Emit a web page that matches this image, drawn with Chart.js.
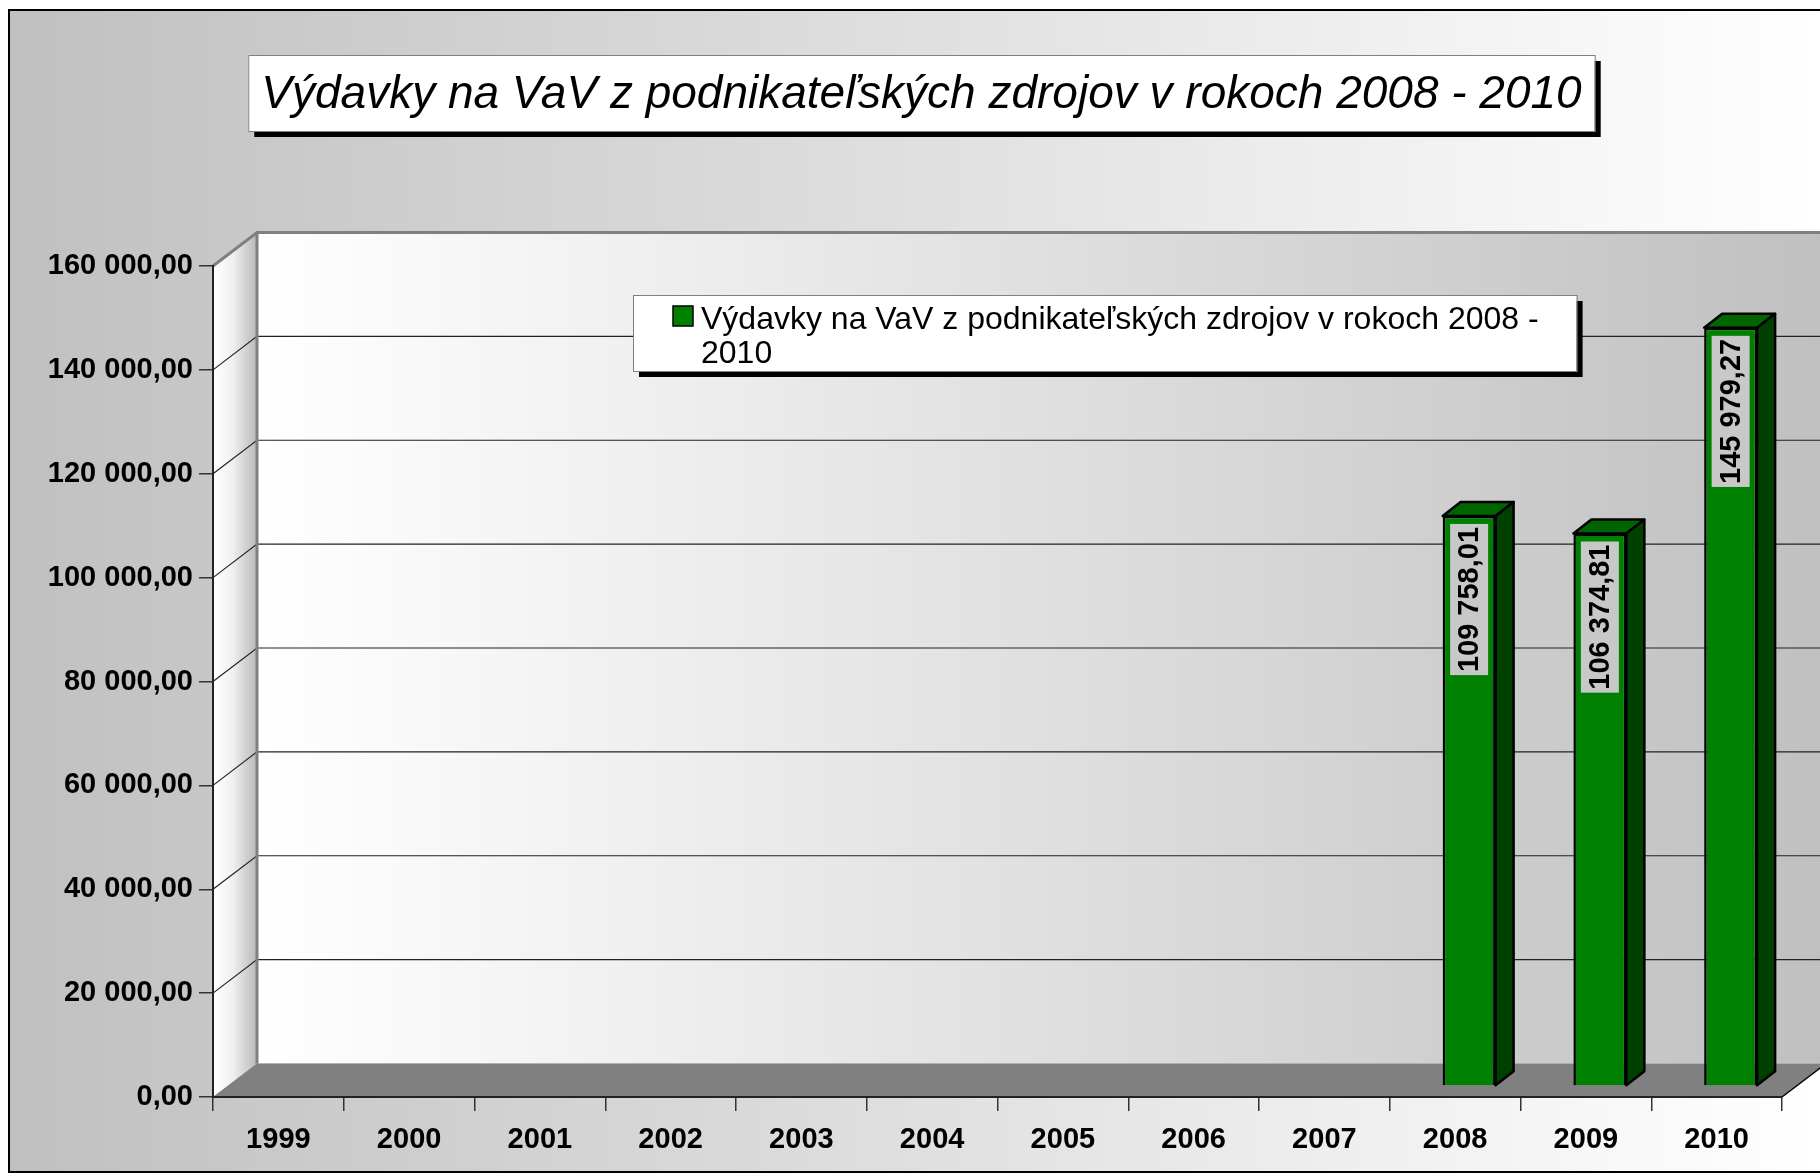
<!DOCTYPE html>
<html>
<head>
<meta charset="utf-8">
<script src="https://cdn.jsdelivr.net/npm/chart.js@4.4.0/dist/chart.umd.min.js"></script>
<style>
  html, body { margin: 0; padding: 0; background: #fff; }
  canvas { display: block; }
</style>
</head>
<body>
<canvas id="chart" width="1820" height="1173"></canvas>
<script>
// data
const years = ['1999', '2000', '2001', '2002', '2003', '2004', '2005', '2006', '2007', '2008', '2009', '2010'];
const spending = [null, null, null, null, null, null, null, null, null, 109758.01, 106374.81, 145979.27];
const yTicks = [0, 20000, 40000, 60000, 80000, 100000, 120000, 140000, 160000];
const titleText = 'Výdavky na VaV z podnikateľských zdrojov v rokoch 2008 - 2010';
const legendLines = ['Výdavky na VaV z podnikateľských zdrojov v rokoch 2008 -', '2010'];

const FONT = '"Liberation Sans", Arial, sans-serif';
const WALL_DX = 44, WALL_DY = 33.5;   // depth of the 3d box
const BAR_DX = 14, BAR_DY = 11;       // bars sit a bit behind the front edge
const SIDE_DX = 18, SIDE_DY = 14;     // depth of each bar

function fmt(v) {
    const parts = Number(v).toFixed(2).split('.');
    return parts[0].replace(/\B(?=(\d{3})+(?!\d))/g, ' ') + ',' + parts[1];
}

function shadowBox(ctx, x, y, w, h) {
    ctx.fillStyle = '#000';
    ctx.fillRect(x + 6, y + 6, w, h);
    ctx.fillStyle = '#fff';
    ctx.fillRect(x, y, w, h);
    ctx.strokeStyle = '#808080';
    ctx.lineWidth = 1;
    ctx.strokeRect(x + 0.5, y + 0.5, w, h);
}

const scenery = {
    id: 'scenery',
    beforeDraw(chart) {
        const ctx = chart.ctx;
        const area = chart.chartArea;
        const yScale = chart.scales.y;
        const W = chart.width, H = chart.height;

        ctx.save();
        ctx.fillStyle = '#fff';
        ctx.fillRect(0, 0, W, H);

        // outer frame
        let g = ctx.createLinearGradient(9, 0, W, 0);
        g.addColorStop(0, '#c0c0c0');
        g.addColorStop(1, '#ffffff');
        ctx.fillStyle = g;
        ctx.fillRect(9, 10, W + 20, H - 11);
        ctx.strokeStyle = '#000';
        ctx.lineWidth = 2;
        ctx.strokeRect(9, 10, W + 20, H - 11);

        // title box
        ctx.font = 'italic 46px ' + FONT;
        const tw = ctx.measureText(titleText).width;
        const bw = tw + 26, bx = 921.5 - bw / 2;
        shadowBox(ctx, bx, 55, bw, 76);
        ctx.fillStyle = '#000';
        ctx.textAlign = 'center';
        ctx.textBaseline = 'alphabetic';
        ctx.fillText(titleText, 921.5, 108);

        const left = area.left, right = area.right, top = area.top, bottom = area.bottom;
        const bl = left + WALL_DX, bt = top - WALL_DY, bb = bottom - WALL_DY;

        // back wall
        g = ctx.createLinearGradient(bl, 0, W, 0);
        g.addColorStop(0, '#ffffff');
        g.addColorStop(1, '#c0c0c0');
        ctx.fillStyle = g;
        ctx.fillRect(bl, bt, W - bl + 10, bb - bt);

        // side wall
        g = ctx.createLinearGradient(left, 0, bl, 0);
        g.addColorStop(0, '#ffffff');
        g.addColorStop(0.45, '#f0f0f0');
        g.addColorStop(1, '#b8b8b8');
        ctx.fillStyle = g;
        ctx.beginPath();
        ctx.moveTo(left, top);
        ctx.lineTo(bl, bt);
        ctx.lineTo(bl, bb);
        ctx.lineTo(left, bottom);
        ctx.closePath();
        ctx.fill();

        // floor
        ctx.fillStyle = '#808080';
        ctx.beginPath();
        ctx.moveTo(left, bottom);
        ctx.lineTo(bl, bb);
        ctx.lineTo(right + WALL_DX, bb);
        ctx.lineTo(right, bottom);
        ctx.closePath();
        ctx.fill();
        ctx.strokeStyle = '#000';
        ctx.lineWidth = 1.5;
        ctx.beginPath();
        ctx.moveTo(right, bottom);
        ctx.lineTo(right + WALL_DX, bb);
        ctx.stroke();

        // grid lines on the walls
        yTicks.forEach(v => {
            if (v === 0 || v === yScale.max) return;
            const y = yScale.getPixelForValue(v);
            ctx.strokeStyle = '#222';
            ctx.lineWidth = 1.2;
            ctx.beginPath();
            ctx.moveTo(left, y);
            ctx.lineTo(bl, y - WALL_DY);
            ctx.lineTo(W + 10, y - WALL_DY);
            ctx.stroke();
        });

        // top and inner edges of the box
        ctx.strokeStyle = '#808080';
        ctx.lineWidth = 3;
        ctx.beginPath();
        ctx.moveTo(left, top);
        ctx.lineTo(bl, bt);
        ctx.lineTo(W + 10, bt);
        ctx.moveTo(bl, bt);
        ctx.lineTo(bl, bb);
        ctx.stroke();
        ctx.restore();
    },
    beforeDatasetsDraw(chart) {
        chart.ctx.save();
        chart.ctx.translate(BAR_DX, -BAR_DY);
    },
    afterDatasetsDraw(chart) {
        const ctx = chart.ctx;
        ctx.restore();
        const meta = chart.getDatasetMeta(0);
        ctx.save();
        meta.data.forEach((bar, i) => {
            if (spending[i] == null) return;
            const p = bar.getProps(['x', 'y', 'base', 'width'], true);
            const l = p.x - p.width / 2 + BAR_DX, r = p.x + p.width / 2 + BAR_DX;
            const t = p.y - BAR_DY, b = p.base - BAR_DY;
            ctx.lineWidth = 2.5;
            ctx.lineJoin = 'round';
            ctx.strokeStyle = '#000';

            ctx.fillStyle = '#006400';
            ctx.beginPath();
            ctx.moveTo(l, t);
            ctx.lineTo(r, t);
            ctx.lineTo(r + SIDE_DX, t - SIDE_DY);
            ctx.lineTo(l + SIDE_DX, t - SIDE_DY);
            ctx.closePath();
            ctx.fill();
            ctx.stroke();

            ctx.fillStyle = '#004000';
            ctx.beginPath();
            ctx.moveTo(r, t);
            ctx.lineTo(r + SIDE_DX, t - SIDE_DY);
            ctx.lineTo(r + SIDE_DX, b - SIDE_DY);
            ctx.lineTo(r, b);
            ctx.closePath();
            ctx.fill();
            ctx.stroke();

            // value label, rotated
            const label = fmt(spending[i]);
            ctx.font = 'bold 29px ' + FONT;
            const lw = ctx.measureText(label).width + 6;
            ctx.save();
            ctx.translate(p.x + BAR_DX, t + 8 + lw / 2);
            ctx.rotate(-Math.PI / 2);
            ctx.fillStyle = '#c8c8c8';
            ctx.fillRect(-lw / 2, -19, lw, 38);
            ctx.fillStyle = '#000';
            ctx.textAlign = 'center';
            ctx.textBaseline = 'middle';
            ctx.fillText(label, 0, 1);
            ctx.restore();
        });
        ctx.restore();
    },
    afterDraw(chart) {
        const ctx = chart.ctx;
        ctx.save();
        ctx.font = '32px ' + FONT;
        const textX = 701;
        const maxW = Math.max(...legendLines.map(s => ctx.measureText(s).width));
        shadowBox(ctx, 633, 295, textX + maxW + 38 - 633, 76);
        ctx.fillStyle = '#008000';
        ctx.fillRect(673, 306, 20, 20);
        ctx.strokeStyle = '#000';
        ctx.lineWidth = 1.5;
        ctx.strokeRect(673, 306, 20, 20);
        ctx.fillStyle = '#000';
        ctx.textAlign = 'left';
        ctx.textBaseline = 'alphabetic';
        legendLines.forEach((s, k) => ctx.fillText(s, textX, 329 + k * 34));
        ctx.restore();
    }
};

new Chart(document.getElementById('chart'), {
    type: 'bar',
    data: {
        labels: years,
        datasets: [{
            label: legendLines.join(' '),
            data: spending,
            backgroundColor: '#008000',
            borderColor: '#000',
            borderWidth: 2.5,
            categoryPercentage: 1,
            barPercentage: 0.405,
            clip: false
        }]
    },
    options: {
        responsive: false,
        animation: false,
        devicePixelRatio: 1,
        layout: { padding: { top: 266, right: 38, left: 0, bottom: 0 } },
        plugins: {
            legend: { display: false },
            title: { display: false },
            tooltip: { enabled: false }
        },
        scales: {
            x: {
                grid: { drawOnChartArea: false, drawTicks: true, tickLength: 14, color: '#333', lineWidth: 1.5, offset: true },
                border: { display: true, color: '#222', width: 2 },
                ticks: { color: '#000', font: { family: FONT, size: 29, weight: 'bold' }, padding: 12, maxRotation: 0, autoSkip: false },
                afterFit: s => { s.height = 76; }
            },
            y: {
                min: 0,
                max: 160000,
                afterBuildTicks: s => { s.ticks = yTicks.map(v => ({ value: v })); },
                grid: { drawOnChartArea: false, drawTicks: true, tickLength: 14, color: '#333', lineWidth: 1.5 },
                border: { display: true, color: '#222', width: 2 },
                ticks: { color: '#000', font: { family: FONT, size: 29, weight: 'bold' }, padding: 6, callback: v => fmt(v) },
                afterFit: s => { s.width = 213; }
            }
        }
    },
    plugins: [scenery]
});
</script>
</body>
</html>
